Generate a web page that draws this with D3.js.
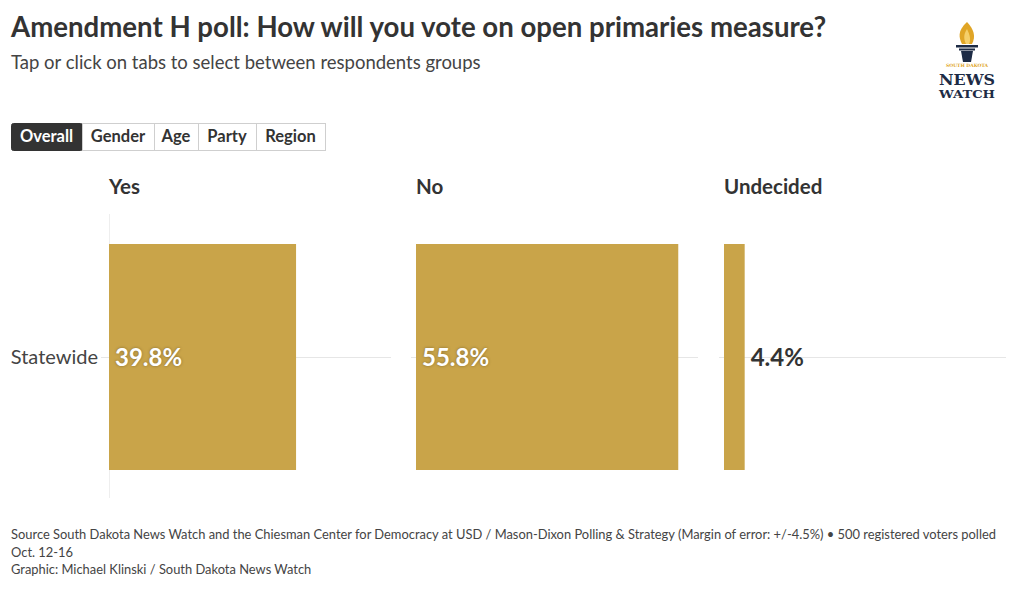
<!DOCTYPE html>
<html><head><meta charset="utf-8">
<script src="https://cdn.jsdelivr.net/npm/d3@7"></script>
<style>
body{margin:0;background:#fff;font-family:Lato,"Noto Sans",sans-serif;}
</style></head>
<body><svg id="c" width="1020" height="589"></svg>
<script>
const categories = ["Yes", "No", "Undecided"];
const rows = ["Statewide"];
const values = [39.8, 55.8, 4.4];
const valueLabels = ["39.8%", "55.8%", "4.4%"];
const tabs = ["Overall", "Gender", "Age", "Party", "Region"];
const title = "Amendment H poll: How will you vote on open primaries measure?";
const subtitle = "Tap or click on tabs to select between respondents groups";
const footer = ["Source South Dakota News Watch and the Chiesman Center for Democracy at USD / Mason-Dixon Polling & Strategy (Margin of error: +/-4.5%) \u2022 500 registered voters polled",
  "Oct. 12-16", "Graphic: Michael Klinski / South Dakota News Watch"];

const svg = d3.select("#c");
const dark = "#333333", gold = "#c9a449";

svg.append("text").attr("x", 11).attr("y", 37).text(title)
  .attr("font-size", 27.6).attr("font-weight", 700).attr("fill", dark);
svg.append("text").attr("x", 11).attr("y", 69).text(subtitle)
  .attr("font-size", 18.5).attr("fill", "#444");

// tabs
const tabW = [71, 72, 44, 58, 69];
let tx = 11;
tabs.forEach((t, i) => {
  const g = svg.append("g");
  g.append("rect").attr("x", tx + 0.5).attr("y", 123.5).attr("width", tabW[i]).attr("height", 27)
    .attr("fill", i === 0 ? dark : "#fff").attr("stroke", i === 0 ? dark : "#cfcfcf").attr("rx", i===0?2:0);
  g.append("text").attr("x", tx + tabW[i] / 2).attr("y", 142).attr("text-anchor", "middle")
    .attr("font-size", 16.5).attr("font-weight", 700).attr("fill", i === 0 ? "#fff" : dark).text(t);
  tx += tabW[i];
});

// panels
const panelX = [109, 416, 724];
const panelW = 282;
const x = d3.scaleLinear().domain([0, 60]).range([0, panelW]);
const y = d3.scaleBand().domain(rows).range([244, 470]).padding(0);

svg.append("text").attr("x", 98).attr("y", 364).attr("text-anchor", "end")
  .attr("font-size", 20).attr("fill", "#444").text(rows[0]);

categories.forEach((cat, i) => {
  const g = svg.append("g").attr("transform", `translate(${panelX[i]},0)`);
  g.append("text").attr("x", 0).attr("y", 194).attr("font-size", 20.5).attr("font-weight", 700)
    .attr("fill", dark).text(cat);
  if (i === 0) g.append("line").attr("x1", 0.5).attr("x2", 0.5).attr("y1", 214).attr("y2", 498)
    .attr("stroke", "#eeeeee");
  rows.forEach(r => {
    const cy = y(r) + y.bandwidth() / 2;
    g.append("line").attr("x1", i === 0 ? -8 : -5).attr("x2", panelW).attr("y1", cy + 0.5).attr("y2", cy + 0.5)
      .attr("stroke", "#e6e6e6");
    g.append("rect").attr("x", x(0)).attr("y", y(r)).attr("width", x(values[i])).attr("height", y.bandwidth())
      .attr("fill", gold);
    const inside = x(values[i]) > 80;
    const lbl = g.append("text").attr("x", inside ? x(0) + 6 : x(values[i]) + 6).attr("y", cy + 8.5)
      .attr("font-size", 24).attr("font-weight", 700).text(valueLabels[i]);
    if (inside) lbl.attr("fill", "#fff").style("text-shadow", "0 0 3px rgba(0,0,0,0.35)");
    else lbl.attr("fill", dark);
  });
});

// footer
footer.forEach((f, i) => {
  svg.append("text").attr("x", 11).attr("y", 539 + i * 17.5).attr("font-size", 12.9).attr("fill", "#444").text(f);
});

// logo
const L = svg.append("g").attr("transform", "translate(967,0)");
const navy = "#1d2b45", lg = "#e0a526";
L.append("path").attr("d", "M0,22 C-10,31 -8,38 -5,44 L5,44 C9,37 7,29 0,22 Z").attr("fill", lg);
L.append("path").attr("d", "M0,29 C-4,35 -3,40 -1,44 L2,44 C4,40 3,35 0,29 Z").attr("fill", "#f5cf6a");
L.append("rect").attr("x", -11).attr("y", 45).attr("width", 22).attr("height", 2.5).attr("fill", navy);
L.append("rect").attr("x", -8).attr("y", 48.5).attr("width", 16).attr("height", 2).attr("fill", navy);
L.append("path").attr("d", "M-6,51 L6,51 L4,62 L-4,62 Z").attr("fill", navy);
L.append("text").attr("x", 0).attr("y", 67).attr("text-anchor", "middle").attr("font-size", 4.5)
  .attr("font-family", "DejaVu Serif").attr("fill", lg).attr("font-weight", 700).text("SOUTH DAKOTA");
L.append("text").attr("x", 0).attr("y", 84.5).attr("text-anchor", "middle").attr("font-size", 14)
  .attr("font-family", "DejaVu Serif").attr("font-weight", 700).attr("fill", navy)
  .attr("textLength", 56).attr("lengthAdjust", "spacingAndGlyphs").text("NEWS");
L.append("text").attr("x", 0).attr("y", 98).attr("text-anchor", "middle").attr("font-size", 10.5)
  .attr("font-family", "DejaVu Serif").attr("font-weight", 700).attr("fill", navy)
  .attr("textLength", 56).attr("lengthAdjust", "spacingAndGlyphs").text("WATCH");
</script></body></html>
